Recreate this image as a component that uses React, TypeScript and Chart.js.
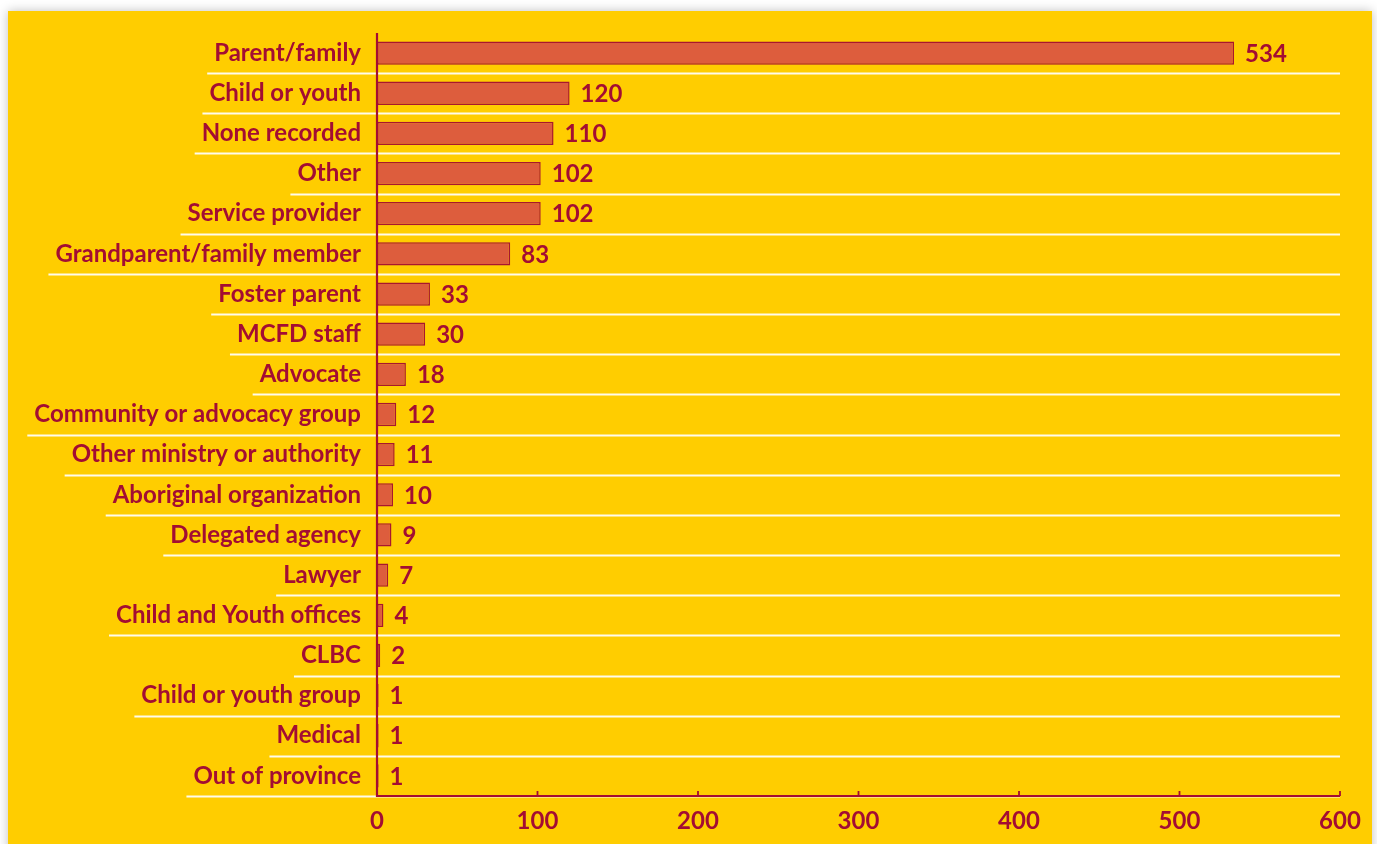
import React, { useEffect, useRef } from "react";
import { Chart, registerables } from "chart.js";

Chart.register(...registerables);

const categories = [
  "Parent/family",
  "Child or youth",
  "None recorded",
  "Other",
  "Service provider",
  "Grandparent/family member",
  "Foster parent",
  "MCFD staff",
  "Advocate",
  "Community or advocacy group",
  "Other ministry or authority",
  "Aboriginal organization",
  "Delegated agency",
  "Lawyer",
  "Child and Youth offices",
  "CLBC",
  "Child or youth group",
  "Medical",
  "Out of province",
];

const values = [534, 120, 110, 102, 102, 83, 33, 30, 18, 12, 11, 10, 9, 7, 4, 2, 1, 1, 1];

const xTicks = [0, 100, 200, 300, 400, 500, 600];

const YELLOW = "#FFCD00";
const DARK = "#A30D33";
const BAR_FILL = "#DD5D3D";
const BAR_BORDER = "#A8172F";
const FONT_FAMILY = "Lato";
const FONT_SIZE = 24;
const FONT_WEIGHT = "bold";
const LABEL_PAD = 16;

const decorPlugin = {
  id: "decor",
  beforeDatasetsDraw(chart: any) {
    const { ctx, chartArea, scales } = chart;
    const y = scales.y;
    const n = categories.length;
    const half = (chartArea.bottom - chartArea.top) / n / 2;
    ctx.save();
    ctx.font = `${FONT_WEIGHT} ${FONT_SIZE}px ${FONT_FAMILY}`;
    ctx.strokeStyle = "rgba(255,255,255,0.92)";
    ctx.lineWidth = 2;
    categories.forEach((label, i) => {
      const yb = Math.round(y.getPixelForValue(i) + half) + 0.5;
      const w = ctx.measureText(label).width;
      const x0 = chartArea.left - LABEL_PAD - w - 7;
      ctx.beginPath();
      ctx.moveTo(x0, yb);
      ctx.lineTo(chartArea.right, yb);
      ctx.stroke();
    });
    ctx.restore();
  },
  afterDatasetsDraw(chart: any) {
    const { ctx, chartArea, scales } = chart;
    const x = scales.x;
    ctx.save();
    ctx.strokeStyle = DARK;
    ctx.lineWidth = 2.2;
    ctx.beginPath();
    ctx.moveTo(chartArea.left, chartArea.top);
    ctx.lineTo(chartArea.left, chartArea.bottom);
    ctx.lineTo(chartArea.right, chartArea.bottom);
    ctx.stroke();
    ctx.lineWidth = 1.8;
    xTicks.forEach((t) => {
      if (t === 0) return;
      const px = x.getPixelForValue(t);
      ctx.beginPath();
      ctx.moveTo(px, chartArea.bottom);
      ctx.lineTo(px, chartArea.bottom - 5);
      ctx.stroke();
    });
    ctx.fillStyle = DARK;
    ctx.font = `${FONT_WEIGHT} ${FONT_SIZE}px ${FONT_FAMILY}`;
    ctx.textAlign = "left";
    ctx.textBaseline = "middle";
    const meta = chart.getDatasetMeta(0);
    meta.data.forEach((el: any, i: number) => {
      ctx.fillText(String(values[i]), el.x + 11, el.y + 1);
    });
    ctx.restore();
  },
};

export default function App() {
  const ref = useRef<HTMLCanvasElement | null>(null);

  useEffect(() => {
    if (!ref.current) return;
    const chart = new Chart(ref.current, {
      type: "bar",
      data: {
        labels: categories,
        datasets: [
          {
            data: values,
            backgroundColor: BAR_FILL,
            borderColor: BAR_BORDER,
            borderWidth: 1.5,
            borderSkipped: false,
            barPercentage: 0.58,
            categoryPercentage: 1,
          },
        ],
      },
      options: {
        indexAxis: "y",
        responsive: false,
        maintainAspectRatio: false,
        animation: false,
        layout: { padding: { top: 33, right: 37, left: 0, bottom: 0 } },
        plugins: {
          legend: { display: false },
          tooltip: { enabled: false },
        },
        scales: {
          x: {
            type: "linear",
            min: 0,
            max: 600,
            afterFit: (s: any) => {
              s.height = 48;
            },
            afterBuildTicks: (s: any) => {
              s.ticks = xTicks.map((v) => ({ value: v }));
            },
            grid: { display: false, drawTicks: false },
            border: { display: false },
            ticks: {
              color: DARK,
              padding: 11,
              font: { family: FONT_FAMILY, size: FONT_SIZE, weight: FONT_WEIGHT as any },
            },
          },
          y: {
            afterFit: (s: any) => {
              s.width = 377;
            },
            grid: { display: false, drawTicks: false },
            border: { display: false },
            ticks: {
              color: DARK,
              padding: LABEL_PAD,
              autoSkip: false,
              font: { family: FONT_FAMILY, size: FONT_SIZE, weight: FONT_WEIGHT as any },
            },
          },
        },
      },
      plugins: [decorPlugin],
    });
    return () => chart.destroy();
  }, []);

  return (
    <div style={{ position: "fixed", left: 0, top: 0, width: 1377, height: 844, background: "#ffffff", overflow: "hidden" }}>
      <div
        style={{
          position: "absolute",
          left: 8,
          top: 11,
          width: 1364,
          height: 900,
          background: YELLOW,
          boxShadow: "0 0 10px rgba(0,0,0,0.25)",
        }}
      />
      <canvas
        ref={ref}
        width={1377}
        height={844}
        style={{ position: "absolute", left: 0, top: 0, width: 1377, height: 844 }}
      />
    </div>
  );
}
